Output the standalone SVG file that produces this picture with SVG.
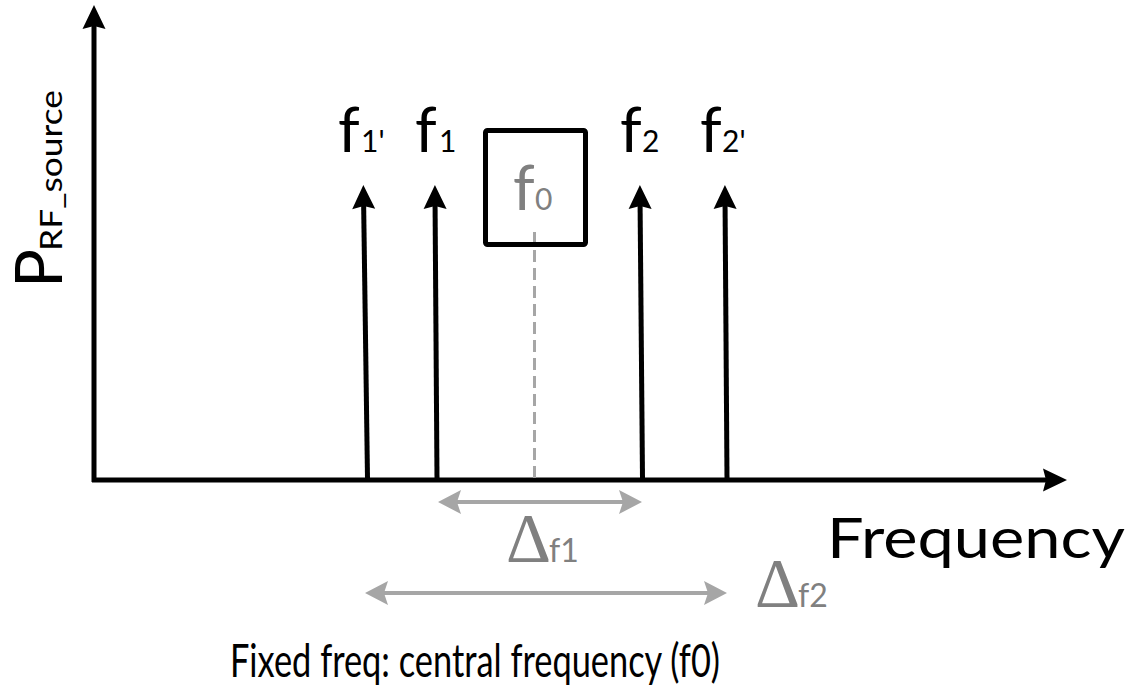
<svg xmlns="http://www.w3.org/2000/svg" width="1138" height="698" viewBox="0 0 1138 698">
<style>
.ax{stroke:#000;stroke-width:5;fill:none}
.gr{stroke:#A6A6A6;stroke-width:4;fill:none}
.lbl{font-family:Lato,"Open Sans","Liberation Sans",sans-serif;fill:#000}
.glbl{font-family:Lato,"Open Sans","Liberation Sans",sans-serif;fill:#808080}
.delta{font-family:"Liberation Serif","DejaVu Serif",serif;fill:#808080}
</style>
<defs>
<marker id="ab" markerUnits="userSpaceOnUse" markerWidth="40" markerHeight="40" viewBox="-20 -20 40 40" refX="0" refY="0" orient="auto" overflow="visible">
<path d="M10,0 L-14,-11.5 L-11,0 L-14,11.5 Z" fill="#000"/>
</marker>
<marker id="ag" markerUnits="userSpaceOnUse" markerWidth="40" markerHeight="40" viewBox="-20 -20 40 40" refX="0" refY="0" orient="auto-start-reverse" overflow="visible">
<path d="M10,0 L-13,-12 L-9,0 L-13,12 Z" fill="#A6A6A6"/>
</marker>
</defs>
<rect width="1138" height="698" fill="#fff"/>
<g id="connectors">
<line class="ax" x1="94" y1="482" x2="94" y2="15" marker-end="url(#ab)"/>
<line class="ax" x1="92" y1="480" x2="1057" y2="480" marker-end="url(#ab)"/>
<line class="ax" x1="367.5" y1="478" x2="363.5" y2="195" marker-end="url(#ab)"/>
<line class="ax" x1="437" y1="478" x2="435" y2="195" marker-end="url(#ab)"/>
<line class="ax" x1="642.5" y1="478" x2="640" y2="195" marker-end="url(#ab)"/>
<line class="ax" x1="727" y1="478" x2="725" y2="195" marker-end="url(#ab)"/>
<line x1="534.5" y1="232" x2="534.5" y2="478" stroke="#A6A6A6" stroke-width="3" stroke-dasharray="12,6"/>
<line class="gr" x1="448" y1="502" x2="632" y2="502" marker-start="url(#ag)" marker-end="url(#ag)"/>
<line class="gr" x1="375" y1="593" x2="717" y2="593" marker-start="url(#ag)" marker-end="url(#ag)"/>
</g>
<g id="yaxis-label">
<text class="lbl" transform="translate(62,288) rotate(-90)"><tspan x="0" y="0" font-size="65">P</tspan><tspan x="37" y="0" font-size="31" textLength="161" lengthAdjust="spacingAndGlyphs">RF_source</tspan></text>
</g>
<g id="f1p">
<text class="lbl" y="152"><tspan x="338" font-size="62">f</tspan><tspan x="361" font-size="30">1'</tspan></text>
</g>
<g id="f1">
<text class="lbl" y="152"><tspan x="415" font-size="62">f</tspan><tspan x="439" font-size="30">1</tspan></text>
</g>
<g id="f0">
<rect x="485.5" y="130.5" width="100" height="114" rx="2" fill="none" stroke="#000" stroke-width="5"/>
<text class="glbl" y="210"><tspan x="513" font-size="62">f</tspan><tspan x="535" font-size="30">0</tspan></text>
</g>
<g id="f2">
<text class="lbl" y="152"><tspan x="620" font-size="62">f</tspan><tspan x="642" font-size="30">2</tspan></text>
</g>
<g id="f2p">
<text class="lbl" y="152"><tspan x="700" font-size="62">f</tspan><tspan x="722" font-size="30">2'</tspan></text>
</g>
<g id="df1">
<text y="562"><tspan class="delta" x="506" font-size="70">Δ</tspan><tspan class="glbl" x="549" font-size="32">f1</tspan></text>
</g>
<g id="df2">
<text y="607"><tspan class="delta" x="755" font-size="70">Δ</tspan><tspan class="glbl" x="798" font-size="32">f2</tspan></text>
</g>
<g id="xaxis-label">
<text class="lbl" x="827" y="558" font-size="57" textLength="298" lengthAdjust="spacingAndGlyphs">Frequency</text>
</g>
<g id="caption">
<text class="lbl" x="230" y="677" font-size="46" textLength="490" lengthAdjust="spacingAndGlyphs">Fixed freq: central frequency (f0)</text>
</g>
</svg>
